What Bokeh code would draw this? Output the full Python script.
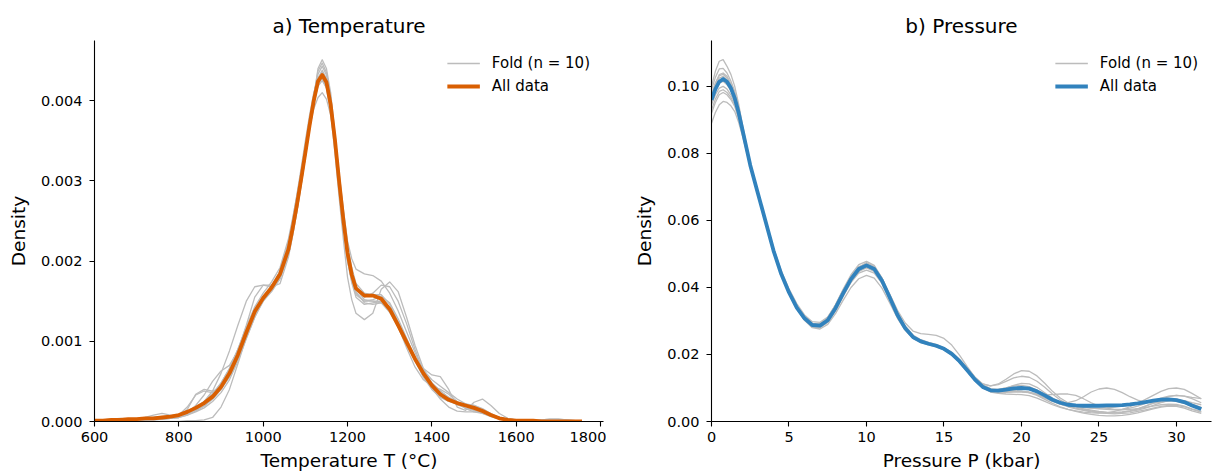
from bokeh.plotting import figure
from bokeh.layouts import row
from bokeh.models import Range1d, FixedTicker, Legend, LegendItem, NumeralTickFormatter
from bokeh.embed import file_html
from bokeh.resources import INLINE

# ---------------- data: temperature KDE ----------------
temp_grid = [600, 620, 640, 660, 680, 700, 720, 740, 760, 780,
             800, 820, 840, 860, 880, 900, 920, 940, 960, 980,
             1000, 1020, 1040, 1060, 1070, 1080, 1090, 1100, 1110, 1120, 1130, 1140, 1150, 1160, 1170, 1180,
             1190, 1200, 1210, 1220, 1240, 1260, 1280, 1300, 1320, 1340, 1360, 1380,
             1400, 1420, 1440, 1460, 1480, 1500, 1520, 1540, 1560, 1580,
             1600, 1620, 1640, 1660, 1680, 1700, 1720, 1740, 1756]

temp_all = [1e-5, 1e-5, 2e-5, 2e-5, 3e-5, 3e-5, 4e-5, 4e-5, 5e-5, 6e-5,
            8e-5, 12e-5, 17e-5, 23e-5, 31e-5, 43e-5, 60e-5, 83e-5, 111e-5, 137e-5,
            154e-5, 167e-5, 184e-5, 215e-5, 241e-5, 270e-5, 302e-5, 335e-5, 369e-5, 400e-5, 424e-5, 432e-5, 423e-5, 395e-5, 352e-5, 300e-5,
            252e-5, 210e-5, 183e-5, 166e-5, 157e-5, 157e-5, 153e-5, 140e-5, 120e-5, 99e-5, 78e-5, 60e-5,
            45e-5, 34e-5, 27e-5, 23e-5, 20e-5, 17e-5, 13e-5, 8e-5, 4e-5, 2e-5,
            1e-5, 1e-5, 1e-5, 0, 0, 0, 0, 0, 0]

temp_fold_1 = [0, 1e-5, 1e-5, 2e-5, 2e-5, 3e-5, 3e-5, 4e-5, 4e-5, 5e-5,
               6e-5, 9e-5, 14e-5, 20e-5, 28e-5, 40e-5, 56e-5, 78e-5, 104e-5, 130e-5,
               150e-5, 164e-5, 180e-5, 208e-5, 233e-5, 262e-5, 295e-5, 330e-5, 368e-5, 405e-5, 440e-5, 451e-5, 440e-5, 410e-5, 360e-5, 305e-5,
               252e-5, 205e-5, 178e-5, 160e-5, 150e-5, 152e-5, 156e-5, 148e-5, 128e-5, 104e-5, 80e-5, 60e-5,
               44e-5, 33e-5, 26e-5, 22e-5, 20e-5, 18e-5, 14e-5, 9e-5, 5e-5, 2e-5,
               1e-5, 1e-5, 1e-5, 0, 0, 0, 0, 0, 0]
temp_fold_2 = [1e-5, 2e-5, 3e-5, 4e-5, 3e-5, 2e-5, 2e-5, 2e-5, 3e-5, 4e-5,
               8e-5, 18e-5, 33e-5, 38e-5, 36e-5, 42e-5, 58e-5, 84e-5, 113e-5, 138e-5,
               153e-5, 163e-5, 178e-5, 210e-5, 237e-5, 268e-5, 301e-5, 336e-5, 372e-5, 408e-5, 433e-5, 443e-5, 432e-5, 400e-5, 352e-5, 298e-5,
               247e-5, 200e-5, 175e-5, 158e-5, 150e-5, 150e-5, 150e-5, 142e-5, 124e-5, 100e-5, 76e-5, 55e-5,
               40e-5, 30e-5, 25e-5, 22e-5, 21e-5, 20e-5, 16e-5, 10e-5, 5e-5, 2e-5,
               1e-5, 1e-5, 0, 0, 0, 0, 0, 0, 0]
temp_fold_3 = [0, 0, 1e-5, 1e-5, 1e-5, 1e-5, 2e-5, 3e-5, 4e-5, 4e-5,
               6e-5, 10e-5, 16e-5, 25e-5, 38e-5, 60e-5, 88e-5, 120e-5, 150e-5, 168e-5,
               170e-5, 170e-5, 182e-5, 212e-5, 238e-5, 268e-5, 300e-5, 333e-5, 367e-5, 400e-5, 428e-5, 438e-5, 428e-5, 402e-5, 357e-5, 305e-5,
               256e-5, 210e-5, 182e-5, 162e-5, 148e-5, 146e-5, 148e-5, 140e-5, 122e-5, 100e-5, 80e-5, 62e-5,
               48e-5, 38e-5, 30e-5, 24e-5, 19e-5, 14e-5, 10e-5, 6e-5, 3e-5, 2e-5,
               1e-5, 1e-5, 1e-5, 1e-5, 1e-5, 1e-5, 0, 0, 0]
temp_fold_4 = [0, 0, 0, 1e-5, 1e-5, 1e-5, 2e-5, 3e-5, 3e-5, 4e-5,
               5e-5, 8e-5, 12e-5, 17e-5, 25e-5, 36e-5, 52e-5, 75e-5, 103e-5, 130e-5,
               152e-5, 168e-5, 188e-5, 225e-5, 252e-5, 283e-5, 316e-5, 350e-5, 382e-5, 410e-5, 428e-5, 433e-5, 423e-5, 400e-5, 358e-5, 310e-5,
               265e-5, 225e-5, 203e-5, 190e-5, 184e-5, 182e-5, 175e-5, 160e-5, 138e-5, 112e-5, 86e-5, 62e-5,
               42e-5, 28e-5, 18e-5, 13e-5, 12e-5, 12e-5, 10e-5, 7e-5, 4e-5, 2e-5,
               1e-5, 0, 0, 0, 0, 0, 0, 0, 0]
temp_fold_5 = [1e-5, 1e-5, 1e-5, 1e-5, 1e-5, 2e-5, 3e-5, 5e-5, 6e-5, 5e-5,
               5e-5, 8e-5, 14e-5, 22e-5, 33e-5, 48e-5, 66e-5, 90e-5, 116e-5, 140e-5,
               156e-5, 166e-5, 180e-5, 210e-5, 236e-5, 265e-5, 297e-5, 330e-5, 364e-5, 395e-5, 420e-5, 428e-5, 416e-5, 385e-5, 335e-5, 280e-5,
               228e-5, 180e-5, 152e-5, 135e-5, 127e-5, 135e-5, 165e-5, 174e-5, 162e-5, 130e-5, 95e-5, 66e-5,
               48e-5, 38e-5, 30e-5, 24e-5, 20e-5, 17e-5, 13e-5, 9e-5, 5e-5, 3e-5,
               2e-5, 1e-5, 1e-5, 2e-5, 3e-5, 3e-5, 2e-5, 1e-5, 0]
temp_fold_6 = [0, 0, 0, 0, 0, 0, 0, 0, 0, 0,
               0, 1e-5, 1e-5, 2e-5, 5e-5, 18e-5, 40e-5, 72e-5, 105e-5, 132e-5,
               150e-5, 162e-5, 178e-5, 212e-5, 239e-5, 270e-5, 304e-5, 338e-5, 370e-5, 398e-5, 418e-5, 425e-5, 416e-5, 392e-5, 349e-5, 300e-5,
               254e-5, 212e-5, 186e-5, 168e-5, 155e-5, 160e-5, 170e-5, 168e-5, 150e-5, 122e-5, 90e-5, 62e-5,
               44e-5, 33e-5, 26e-5, 21e-5, 17e-5, 14e-5, 11e-5, 7e-5, 4e-5, 2e-5,
               1e-5, 1e-5, 0, 0, 0, 0, 0, 0, 0]
temp_fold_7 = [2e-5, 2e-5, 2e-5, 2e-5, 3e-5, 3e-5, 4e-5, 5e-5, 6e-5, 7e-5,
               9e-5, 13e-5, 18e-5, 25e-5, 35e-5, 48e-5, 66e-5, 90e-5, 118e-5, 143e-5,
               160e-5, 174e-5, 192e-5, 228e-5, 254e-5, 282e-5, 311e-5, 340e-5, 367e-5, 390e-5, 404e-5, 410e-5, 402e-5, 382e-5, 346e-5, 305e-5,
               262e-5, 220e-5, 192e-5, 172e-5, 160e-5, 158e-5, 152e-5, 138e-5, 118e-5, 98e-5, 80e-5, 64e-5,
               52e-5, 44e-5, 36e-5, 28e-5, 22e-5, 18e-5, 14e-5, 9e-5, 5e-5, 3e-5,
               2e-5, 1e-5, 1e-5, 1e-5, 0, 0, 0, 0, 0]
temp_fold_8 = [1e-5, 1e-5, 1e-5, 1e-5, 1e-5, 1e-5, 2e-5, 2e-5, 3e-5, 4e-5,
               6e-5, 11e-5, 20e-5, 33e-5, 50e-5, 63e-5, 70e-5, 88e-5, 120e-5, 155e-5,
               170e-5, 168e-5, 172e-5, 205e-5, 232e-5, 262e-5, 295e-5, 330e-5, 368e-5, 405e-5, 437e-5, 447e-5, 435e-5, 405e-5, 354e-5, 300e-5,
               248e-5, 200e-5, 173e-5, 155e-5, 146e-5, 148e-5, 150e-5, 140e-5, 118e-5, 92e-5, 68e-5, 52e-5,
               44e-5, 40e-5, 34e-5, 25e-5, 16e-5, 12e-5, 12e-5, 9e-5, 5e-5, 2e-5,
               1e-5, 0, 0, 0, 0, 0, 0, 0, 0]
temp_fold_9 = [1e-5, 1e-5, 1e-5, 1e-5, 1e-5, 1e-5, 2e-5, 4e-5, 5e-5, 4e-5,
               5e-5, 15e-5, 34e-5, 40e-5, 38e-5, 42e-5, 55e-5, 78e-5, 106e-5, 134e-5,
               152e-5, 166e-5, 182e-5, 212e-5, 238e-5, 268e-5, 301e-5, 336e-5, 370e-5, 402e-5, 428e-5, 436e-5, 426e-5, 398e-5, 352e-5, 302e-5,
               254e-5, 210e-5, 183e-5, 165e-5, 152e-5, 150e-5, 148e-5, 136e-5, 118e-5, 98e-5, 80e-5, 66e-5,
               58e-5, 56e-5, 40e-5, 18e-5, 14e-5, 24e-5, 28e-5, 20e-5, 10e-5, 4e-5,
               2e-5, 1e-5, 1e-5, 2e-5, 3e-5, 3e-5, 2e-5, 1e-5, 0]
temp_fold_10 = [0, 1e-5, 1e-5, 1e-5, 2e-5, 3e-5, 5e-5, 8e-5, 10e-5, 8e-5,
                7e-5, 9e-5, 13e-5, 19e-5, 28e-5, 40e-5, 58e-5, 82e-5, 110e-5, 136e-5,
                155e-5, 168e-5, 185e-5, 218e-5, 244e-5, 272e-5, 304e-5, 338e-5, 370e-5, 400e-5, 422e-5, 430e-5, 420e-5, 393e-5, 347e-5, 298e-5,
                251e-5, 208e-5, 182e-5, 165e-5, 156e-5, 158e-5, 158e-5, 146e-5, 124e-5, 100e-5, 78e-5, 58e-5,
                42e-5, 32e-5, 26e-5, 24e-5, 22e-5, 20e-5, 15e-5, 9e-5, 4e-5, 2e-5,
                1e-5, 0, 0, 0, 0, 0, 0, 0, 0]
temp_folds = [temp_fold_1, temp_fold_2, temp_fold_3, temp_fold_4, temp_fold_5,
              temp_fold_6, temp_fold_7, temp_fold_8, temp_fold_9, temp_fold_10]

# ---------------- data: pressure KDE ----------------
pres_grid = [0, 0.25, 0.5, 0.75, 1, 1.25, 1.5, 1.75, 2, 2.5, 3, 3.5, 4, 4.5,
             5, 5.5, 6, 6.5, 7, 7.5, 8, 8.5, 9, 9.5,
             10, 10.5, 11, 11.5, 12, 12.5, 13, 13.5, 14, 14.5,
             15, 15.5, 16, 16.5, 17, 17.5, 18, 18.5, 19, 19.5,
             20, 20.5, 21, 21.5, 22, 22.5, 23, 23.5, 24, 24.5,
             25, 25.5, 26, 26.5, 27, 27.5, 28, 28.5, 29, 29.5,
             30, 30.5, 31, 31.6]

pres_all = [960e-4, 992e-4, 1014e-4, 1022e-4, 1014e-4, 995e-4, 965e-4, 922e-4, 870e-4, 765e-4, 680e-4, 595e-4, 510e-4, 440e-4,
            385e-4, 340e-4, 308e-4, 288e-4, 286e-4, 302e-4, 338e-4, 383e-4, 425e-4, 455e-4,
            466e-4, 455e-4, 420e-4, 370e-4, 318e-4, 278e-4, 252e-4, 239e-4, 232e-4, 226e-4,
            217e-4, 202e-4, 180e-4, 153e-4, 125e-4, 103e-4, 93e-4, 92e-4, 95e-4, 99e-4,
            100e-4, 98e-4, 90e-4, 78e-4, 65e-4, 56e-4, 50e-4, 48e-4, 47e-4, 47e-4,
            47e-4, 48e-4, 48e-4, 49e-4, 51e-4, 54e-4, 58e-4, 62e-4, 65e-4, 66e-4,
            64e-4, 58e-4, 48e-4, 37e-4]

pres_fold_1 = [1000e-4, 1045e-4, 1075e-4, 1080e-4, 1060e-4, 1036e-4, 1000e-4, 948e-4, 885e-4, 770e-4, 680e-4, 592e-4, 505e-4, 436e-4,
               382e-4, 340e-4, 310e-4, 292e-4, 292e-4, 310e-4, 348e-4, 395e-4, 438e-4, 468e-4,
               478e-4, 466e-4, 428e-4, 376e-4, 322e-4, 280e-4, 254e-4, 240e-4, 233e-4, 227e-4,
               218e-4, 203e-4, 180e-4, 152e-4, 124e-4, 103e-4, 94e-4, 95e-4, 100e-4, 106e-4,
               108e-4, 104e-4, 94e-4, 80e-4, 66e-4, 56e-4, 50e-4, 46e-4, 43e-4, 40e-4,
               38e-4, 36e-4, 35e-4, 35e-4, 36e-4, 38e-4, 42e-4, 46e-4, 50e-4, 52e-4,
               51e-4, 46e-4, 38e-4, 30e-4]
pres_fold_2 = [990e-4, 1027e-4, 1052e-4, 1054e-4, 1040e-4, 1016e-4, 985e-4, 936e-4, 878e-4, 768e-4, 680e-4, 594e-4, 508e-4, 438e-4,
               383e-4, 338e-4, 305e-4, 284e-4, 281e-4, 296e-4, 330e-4, 374e-4, 416e-4, 448e-4,
               461e-4, 452e-4, 418e-4, 368e-4, 317e-4, 278e-4, 252e-4, 240e-4, 233e-4, 228e-4,
               220e-4, 207e-4, 186e-4, 160e-4, 132e-4, 112e-4, 106e-4, 112e-4, 126e-4, 142e-4,
               152e-4, 150e-4, 136e-4, 114e-4, 90e-4, 70e-4, 56e-4, 46e-4, 38e-4, 32e-4,
               28e-4, 26e-4, 26e-4, 28e-4, 32e-4, 38e-4, 46e-4, 54e-4, 60e-4, 62e-4,
               60e-4, 54e-4, 46e-4, 38e-4]
pres_fold_3 = [975e-4, 1010e-4, 1035e-4, 1040e-4, 1030e-4, 1008e-4, 978e-4, 932e-4, 875e-4, 768e-4, 681e-4, 595e-4, 510e-4, 441e-4,
               387e-4, 343e-4, 312e-4, 293e-4, 292e-4, 310e-4, 348e-4, 393e-4, 434e-4, 462e-4,
               470e-4, 458e-4, 422e-4, 372e-4, 320e-4, 280e-4, 254e-4, 240e-4, 232e-4, 226e-4,
               217e-4, 202e-4, 181e-4, 156e-4, 130e-4, 112e-4, 106e-4, 110e-4, 120e-4, 130e-4,
               135e-4, 132e-4, 120e-4, 102e-4, 82e-4, 64e-4, 52e-4, 44e-4, 38e-4, 34e-4,
               30e-4, 28e-4, 27e-4, 28e-4, 30e-4, 34e-4, 40e-4, 48e-4, 56e-4, 62e-4,
               64e-4, 60e-4, 52e-4, 42e-4]
pres_fold_4 = [965e-4, 1000e-4, 1025e-4, 1030e-4, 1020e-4, 999e-4, 972e-4, 926e-4, 872e-4, 766e-4, 680e-4, 596e-4, 512e-4, 442e-4,
               386e-4, 340e-4, 306e-4, 286e-4, 284e-4, 300e-4, 336e-4, 380e-4, 422e-4, 452e-4,
               463e-4, 452e-4, 418e-4, 368e-4, 316e-4, 277e-4, 252e-4, 239e-4, 232e-4, 226e-4,
               216e-4, 200e-4, 178e-4, 150e-4, 122e-4, 100e-4, 90e-4, 88e-4, 89e-4, 90e-4,
               90e-4, 88e-4, 82e-4, 72e-4, 62e-4, 56e-4, 56e-4, 62e-4, 74e-4, 88e-4,
               97e-4, 100e-4, 96e-4, 86e-4, 74e-4, 64e-4, 58e-4, 56e-4, 58e-4, 62e-4,
               64e-4, 62e-4, 56e-4, 50e-4]
pres_fold_5 = [955e-4, 988e-4, 1010e-4, 1015e-4, 1005e-4, 987e-4, 962e-4, 920e-4, 868e-4, 766e-4, 683e-4, 600e-4, 518e-4, 450e-4,
               396e-4, 352e-4, 318e-4, 298e-4, 296e-4, 312e-4, 346e-4, 390e-4, 430e-4, 458e-4,
               468e-4, 458e-4, 426e-4, 380e-4, 332e-4, 294e-4, 270e-4, 262e-4, 260e-4, 257e-4,
               248e-4, 228e-4, 198e-4, 164e-4, 132e-4, 110e-4, 98e-4, 94e-4, 93e-4, 92e-4,
               90e-4, 86e-4, 82e-4, 80e-4, 80e-4, 82e-4, 82e-4, 78e-4, 68e-4, 56e-4,
               46e-4, 40e-4, 36e-4, 36e-4, 40e-4, 46e-4, 54e-4, 62e-4, 70e-4, 76e-4,
               78e-4, 76e-4, 72e-4, 68e-4]
pres_fold_6 = [945e-4, 975e-4, 995e-4, 1000e-4, 992e-4, 975e-4, 952e-4, 912e-4, 862e-4, 764e-4, 682e-4, 598e-4, 514e-4, 444e-4,
               388e-4, 343e-4, 310e-4, 290e-4, 288e-4, 303e-4, 337e-4, 380e-4, 420e-4, 448e-4,
               458e-4, 448e-4, 415e-4, 366e-4, 316e-4, 278e-4, 253e-4, 240e-4, 233e-4, 227e-4,
               218e-4, 203e-4, 181e-4, 154e-4, 126e-4, 104e-4, 92e-4, 88e-4, 87e-4, 88e-4,
               88e-4, 86e-4, 80e-4, 70e-4, 60e-4, 52e-4, 46e-4, 40e-4, 35e-4, 31e-4,
               28e-4, 26e-4, 26e-4, 28e-4, 32e-4, 38e-4, 46e-4, 56e-4, 66e-4, 74e-4,
               78e-4, 76e-4, 68e-4, 56e-4]
pres_fold_7 = [930e-4, 962e-4, 985e-4, 990e-4, 982e-4, 967e-4, 945e-4, 907e-4, 860e-4, 765e-4, 684e-4, 600e-4, 515e-4, 443e-4,
               385e-4, 338e-4, 302e-4, 280e-4, 276e-4, 290e-4, 322e-4, 362e-4, 400e-4, 426e-4,
               436e-4, 428e-4, 398e-4, 354e-4, 308e-4, 272e-4, 248e-4, 236e-4, 229e-4, 223e-4,
               214e-4, 198e-4, 176e-4, 150e-4, 122e-4, 100e-4, 88e-4, 84e-4, 82e-4, 81e-4,
               80e-4, 77e-4, 70e-4, 60e-4, 50e-4, 42e-4, 36e-4, 32e-4, 28e-4, 26e-4,
               25e-4, 26e-4, 30e-4, 36e-4, 44e-4, 54e-4, 66e-4, 78e-4, 90e-4, 98e-4,
               100e-4, 96e-4, 84e-4, 68e-4]
pres_fold_8 = [920e-4, 952e-4, 975e-4, 982e-4, 975e-4, 961e-4, 940e-4, 904e-4, 858e-4, 764e-4, 682e-4, 597e-4, 511e-4, 440e-4,
               383e-4, 337e-4, 303e-4, 282e-4, 280e-4, 296e-4, 332e-4, 376e-4, 415e-4, 443e-4,
               452e-4, 443e-4, 412e-4, 364e-4, 315e-4, 277e-4, 252e-4, 239e-4, 232e-4, 226e-4,
               217e-4, 202e-4, 180e-4, 153e-4, 125e-4, 104e-4, 93e-4, 90e-4, 90e-4, 90e-4,
               90e-4, 86e-4, 78e-4, 66e-4, 54e-4, 44e-4, 36e-4, 30e-4, 25e-4, 21e-4,
               18e-4, 17e-4, 17e-4, 18e-4, 21e-4, 26e-4, 32e-4, 38e-4, 43e-4, 46e-4,
               45e-4, 40e-4, 32e-4, 24e-4]
pres_fold_9 = [890e-4, 922e-4, 945e-4, 955e-4, 952e-4, 942e-4, 925e-4, 893e-4, 852e-4, 762e-4, 683e-4, 600e-4, 516e-4, 446e-4,
               390e-4, 345e-4, 312e-4, 292e-4, 290e-4, 306e-4, 342e-4, 388e-4, 430e-4, 460e-4,
               474e-4, 463e-4, 428e-4, 378e-4, 326e-4, 285e-4, 258e-4, 244e-4, 236e-4, 230e-4,
               220e-4, 204e-4, 181e-4, 154e-4, 126e-4, 104e-4, 94e-4, 92e-4, 94e-4, 98e-4,
               100e-4, 97e-4, 88e-4, 75e-4, 62e-4, 52e-4, 44e-4, 38e-4, 33e-4, 29e-4,
               26e-4, 24e-4, 23e-4, 24e-4, 26e-4, 30e-4, 35e-4, 40e-4, 45e-4, 48e-4,
               48e-4, 44e-4, 36e-4, 28e-4]
pres_fold_10 = [975e-4, 1008e-4, 1032e-4, 1036e-4, 1025e-4, 1003e-4, 975e-4, 928e-4, 872e-4, 766e-4, 680e-4, 594e-4, 508e-4, 438e-4,
                382e-4, 337e-4, 305e-4, 286e-4, 284e-4, 301e-4, 338e-4, 384e-4, 427e-4, 458e-4,
                470e-4, 460e-4, 425e-4, 374e-4, 322e-4, 282e-4, 256e-4, 242e-4, 234e-4, 228e-4,
                219e-4, 204e-4, 182e-4, 155e-4, 127e-4, 106e-4, 96e-4, 96e-4, 100e-4, 108e-4,
                114e-4, 112e-4, 102e-4, 86e-4, 70e-4, 58e-4, 50e-4, 45e-4, 42e-4, 40e-4,
                40e-4, 41e-4, 43e-4, 46e-4, 50e-4, 54e-4, 58e-4, 62e-4, 66e-4, 68e-4,
                67e-4, 60e-4, 50e-4, 40e-4]
pres_folds = [pres_fold_1, pres_fold_2, pres_fold_3, pres_fold_4, pres_fold_5,
              pres_fold_6, pres_fold_7, pres_fold_8, pres_fold_9, pres_fold_10]

temp_xticks = [600, 800, 1000, 1200, 1400, 1600, 1800]
temp_yticks = [0.0, 0.001, 0.002, 0.003, 0.004]
pres_xticks = [0, 5, 10, 15, 20, 25, 30]
pres_yticks = [0.0, 0.02, 0.04, 0.06, 0.08, 0.10]

FONT = "DejaVu Sans"
GRAY = "#bcbcbc"


def make_panel(title, grid, folds, all_vals, color, xr, yr, xticks, yticks, yfmt,
               xlabel, width, border_left, border_right):
    p = figure(width=width, height=473, output_backend="svg", toolbar_location=None,
               x_range=Range1d(*xr), y_range=Range1d(*yr),
               min_border_left=border_left, min_border_right=border_right,
               min_border_top=40, min_border_bottom=51)
    p.title.text = title
    p.title.align = "center"
    p.title.text_font = FONT
    p.title.text_font_size = "20px"
    p.title.text_font_style = "normal"
    p.title.text_color = "black"
    p.title.standoff = 6
    p.outline_line_color = None
    p.background_fill_color = "white"
    p.border_fill_color = "white"
    p.grid.visible = False

    fold_renderers = []
    for f in folds:
        r = p.line(grid, f, line_color=GRAY, line_width=1.3, line_join="round")
        fold_renderers.append(r)
    main_r = p.line(grid, all_vals, line_color=color, line_width=3.8,
                    line_join="round")

    for ax in (p.xaxis[0], p.yaxis[0]):
        ax.axis_line_color = "black"
        ax.axis_line_width = 1.1
        ax.major_tick_line_color = "black"
        ax.major_tick_line_width = 1.1
        ax.major_tick_out = 5
        ax.major_tick_in = 0
        ax.minor_tick_line_color = None
        ax.major_label_text_font = FONT
        ax.major_label_text_font_size = "14.5px"
        ax.major_label_text_color = "black"
        ax.axis_label_text_font = FONT
        ax.axis_label_text_font_size = "18.5px"
        ax.axis_label_text_font_style = "normal"
        ax.axis_label_text_color = "black"

    p.xaxis.ticker = FixedTicker(ticks=xticks)
    p.yaxis.ticker = FixedTicker(ticks=yticks)
    p.yaxis.formatter = NumeralTickFormatter(format=yfmt)
    p.xaxis.axis_label = xlabel
    p.yaxis.axis_label = "Density"
    p.xaxis.major_label_standoff = 5
    p.xaxis.axis_label_standoff = 5
    p.yaxis.major_label_standoff = 7
    p.yaxis.axis_label_standoff = 9

    legend = Legend(items=[LegendItem(label="Fold (n = 10)", renderers=[fold_renderers[0]]),
                           LegendItem(label="All data", renderers=[main_r])],
                    location="top_right")
    legend.border_line_color = None
    legend.background_fill_alpha = 0
    legend.label_text_font = FONT
    legend.label_text_font_size = "15px"
    legend.label_text_color = "black"
    legend.glyph_width = 33
    legend.glyph_height = 20
    legend.label_height = 20
    legend.label_standoff = 12
    legend.spacing = 3
    legend.padding = 4
    legend.margin = 13
    p.add_layout(legend)
    return p


p1 = make_panel("a) Temperature", temp_grid, temp_folds, temp_all, "#d95f02",
                (600, 1807), (0, 0.00475), temp_xticks, temp_yticks, "0.000",
                "Temperature T (°C)", 606, 94, 3)
p2 = make_panel("b) Pressure", pres_grid, pres_folds, pres_all, "#3182bd",
                (0, 32.26), (0, 0.1137), pres_xticks, pres_yticks, "0.00",
                "Pressure P (kbar)", 607, 105, 2)

layout = row(p1, p2)
open("out.html", "w").write(file_html(layout, INLINE))
